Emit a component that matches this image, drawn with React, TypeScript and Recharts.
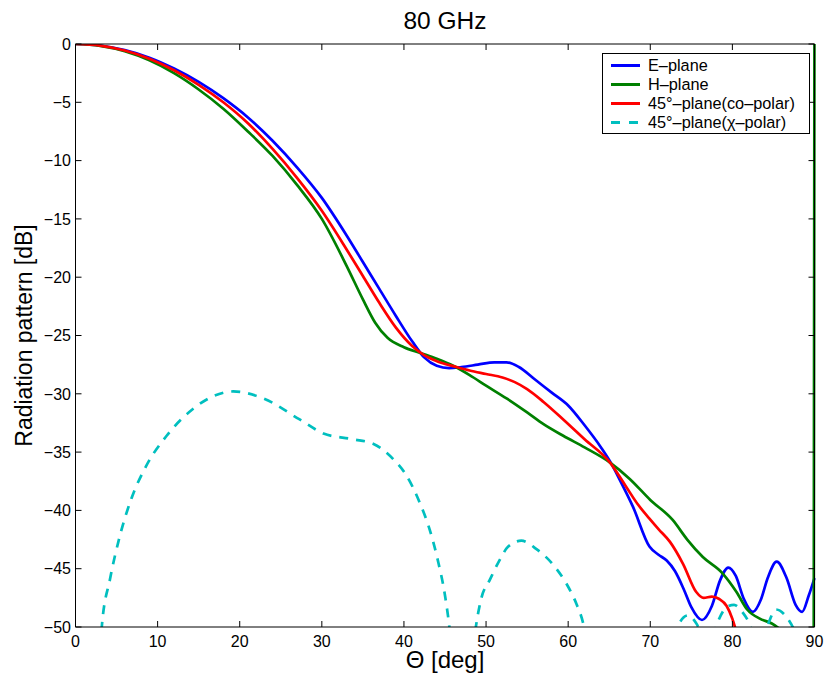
import React from "react";
import { LineChart, Line, XAxis, YAxis, Legend, Label } from "recharts";

// theta [deg] / level [dB] pairs
const thetaTicks = [0, 10, 20, 30, 40, 50, 60, 70, 80, 90];
const dbTicks = [-50, -45, -40, -35, -30, -25, -20, -15, -10, -5, 0];

const ePlane: [number, number][] = [
  [0, 0], [3, -0.13], [6, -0.52], [9, -1.17], [12, -2.1], [15, -3.25], [18, -4.65],
  [21, -6.3], [24, -8.3], [27, -10.6], [30, -13.2], [33, -16.4], [35, -18.7],
  [37, -21.0], [39, -23.3], [41, -25.5], [42.5, -26.9], [44, -27.6], [45.5, -27.8],
  [47, -27.7], [49, -27.5], [51, -27.3], [52.5, -27.3], [54, -27.7], [56, -28.8],
  [58, -29.9], [60, -31.0], [62, -32.7], [64, -34.6], [65.1, -35.8], [66.3, -37.4],
  [67.9, -39.7], [69.9, -43.1], [71, -43.8], [72, -44.3], [73, -45.2], [74.1, -46.8],
  [75, -48.3], [76.3, -49.4], [77.5, -48.2], [78.5, -46], [79.5, -44.9], [80.4, -45.6],
  [81.4, -47.6], [82.5, -48.7], [83.5, -47.6], [84.3, -45.8], [85.4, -44.4],
  [86.6, -45.8], [87.7, -48.1], [88.5, -48.7], [89.3, -47.3], [90, -45.8],
];

const hPlane: [number, number][] = [
  [0, 0], [3, -0.16], [6, -0.62], [9, -1.4], [12, -2.5], [15, -3.9], [18, -5.55],
  [21, -7.5], [24, -9.6], [27, -12.1], [30, -15.0], [33, -19.0], [35, -21.9],
  [36.5, -23.9], [38, -25.2], [40, -26.0], [42, -26.5], [44, -27.0], [46, -27.6],
  [48, -28.4], [50, -29.3], [52.5, -30.4], [55, -31.6], [57, -32.6], [59.4, -33.6],
  [62, -34.6], [65.1, -35.9], [67.5, -37.3], [70, -39.1], [72.7, -40.8], [74.5, -42.5],
  [76.4, -44.0], [78.8, -45.4], [80.5, -47.0], [81.8, -48.5], [83.4, -49.3],
  [84.8, -49.7], [86.5, -50.6], [88.5, -52], [89.9, -55], [90, 5],
];

const coPolar: [number, number][] = [
  [0, 0], [3, -0.14], [6, -0.56], [9, -1.26], [12, -2.25], [15, -3.5], [18, -5.0],
  [21, -6.8], [24, -9.0], [27, -11.5], [30, -14.3], [33, -17.6], [35, -19.9],
  [37, -22.2], [39, -24.3], [41, -25.9], [42.5, -26.7], [44, -27.2], [46.4, -27.7],
  [48, -28.0], [50, -28.3], [52, -28.6], [53.5, -29.0], [55, -29.6], [57, -30.7],
  [59.4, -32.2], [62, -33.9], [65.1, -35.9], [67, -37.9], [68.5, -39.5], [69.9, -40.7],
  [71, -41.6], [72.4, -42.7], [74, -44.6], [75.6, -47.0], [76.5, -47.5], [77.5, -47.4],
  [78.4, -47.6], [79.3, -48.2], [80, -49.3], [80.5, -50.5], [81.5, -54], [82, -56],
];

const crossPolar: [number, number][] = [
  [2, -62], [2.8, -54], [3.2, -50], [4.2, -45.9], [5.4, -42.2], [6.8, -39], [8.6, -36.2],
  [11.1, -33.6], [14.3, -31.3], [16.8, -30.2], [19.2, -29.8], [22.9, -30.4],
  [27.3, -32.2], [30.2, -33.4], [33.8, -33.9], [36.3, -34.3], [38.7, -35.6],
  [40.3, -37], [41.9, -39.3], [43.2, -41.8], [44.1, -44.2], [45, -47.3], [45.5, -49.8],
  [46.2, -55], [47, -58], [47.8, -56], [48.3, -52.5], [48.8, -49.8], [49.4, -47.6],
  [50.5, -45.9], [51.7, -44.2], [52.7, -43.1], [54.3, -42.6], [56.1, -43.3],
  [58.1, -44.6], [59.8, -46.3], [61, -48.0], [61.8, -49.6], [62.5, -52], [64, -57],
  [67, -62], [70, -60], [72, -55], [73.3, -50], [74.6, -49.0], [75.7, -49.8],
  [76.5, -51], [77.5, -51], [78.2, -49.6], [79.3, -48.3], [80.2, -48.1], [81.2, -48.7],
  [82, -49.6], [82.8, -51], [83.6, -50.8], [84.3, -49.8], [85.3, -48.5], [86.3, -48.9],
  [87.2, -49.8], [88, -51], [90, -54],
];

const toPoints = (rows: [number, number][]) => rows.map(([theta, db]) => ({ theta, db }));

const series = [
  { name: "E–plane", color: "#0000ff", dash: undefined, rows: ePlane },
  { name: "H–plane", color: "#008000", dash: undefined, rows: hPlane },
  { name: "45°–plane(co–polar)", color: "#ff0000", dash: undefined, rows: coPolar },
  { name: "45°–plane(χ–polar)", color: "#00bfbf", dash: "9 8", rows: crossPolar },
];

const font = '"Liberation Sans", Arial, Helvetica, sans-serif';
const minus = (v: number) => String(v).replace("-", "\u2212");

// chart frame
const W = 825;
const H = 679;
const margin = { top: 44, right: 10.5, left: 0, bottom: 0 };
const xAxisHeight = 52;
const yAxisWidth = 75.5;
const plotTop = margin.top;
const plotBottom = H - margin.bottom - xAxisHeight;
const plotLeft = margin.left + yAxisWidth;
const plotRight = W - margin.right;
const TICK = 6;

// MATLAB box style: inward tick stubs on both opposite sides plus the label
const BottomTick = (p: any) => (
  <g>
    <line x1={p.x} x2={p.x} y1={plotBottom} y2={plotBottom - TICK} stroke="#000" />
    <line x1={p.x} x2={p.x} y1={plotTop} y2={plotTop + TICK} stroke="#000" />
    <text x={p.x} y={plotBottom + 20} textAnchor="middle" fontSize={16} fontFamily={font} fill="#000">
      {p.payload.value}
    </text>
  </g>
);

const LeftTick = (p: any) => (
  <g>
    <line y1={p.y} y2={p.y} x1={plotLeft} x2={plotLeft + TICK} stroke="#000" />
    <line y1={p.y} y2={p.y} x1={plotRight} x2={plotRight - TICK} stroke="#000" />
    <text x={plotLeft - 4.5} y={p.y + 5.7} textAnchor="end" fontSize={16} fontFamily={font} fill="#000">
      {minus(p.payload.value)}
    </text>
  </g>
);

const PatternLegend = () => (
  <div
    style={{
      width: 208,
      height: 81,
      boxSizing: "border-box",
      border: "1px solid #000",
      background: "#fff",
      paddingTop: 2,
      fontFamily: font,
      fontSize: 16.3,
      color: "#000",
    }}
  >
    {series.map((s) => (
      <div key={s.name} style={{ display: "flex", alignItems: "center", height: 19 }}>
        <svg width={45} height={19} style={{ flex: "none" }}>
          <line x1={8} x2={37} y1={9.5} y2={9.5} stroke={s.color} strokeWidth={3} strokeDasharray={s.dash ? "9 9" : undefined} />
        </svg>
        <span style={{ whiteSpace: "nowrap" }}>{s.name}</span>
      </div>
    ))}
  </div>
);

export default function App() {
  return (
    <div style={{ position: "absolute", left: 0, top: 0, width: W, height: H, background: "#fff" }}>
      <LineChart width={W} height={H} margin={margin}>
        <XAxis
          type="number"
          dataKey="theta"
          domain={[0, 90]}
          ticks={thetaTicks}
          interval={0}
          height={xAxisHeight}
          stroke="#000"
          tickLine={false}
          tickSize={0}
          tick={BottomTick}
        >
          <Label
            content={() => (
              <text x={445} y={668} textAnchor="middle" fontSize={24} fontFamily={font} fill="#000">
                Θ [deg]
              </text>
            )}
          />
        </XAxis>
        <XAxis
          xAxisId="top"
          orientation="top"
          type="number"
          domain={[0, 90]}
          ticks={thetaTicks}
          mirror
          tick={false}
          tickLine={false}
          stroke="#000"
        >
          <Label
            content={() => (
              <text x={445} y={29} textAnchor="middle" fontSize={24.5} fontFamily={font} fill="#000">
                80 GHz
              </text>
            )}
          />
        </XAxis>
        <YAxis
          type="number"
          domain={[-50, 0]}
          ticks={dbTicks}
          interval={0}
          allowDataOverflow
          width={yAxisWidth}
          stroke="#000"
          tickLine={false}
          tickSize={0}
          tick={LeftTick}
        >
          <Label
            content={() => (
              <text
                x={31.5}
                y={335.5}
                transform="rotate(-90 31.5 335.5)"
                textAnchor="middle"
                fontSize={23}
                fontFamily={font}
                fill="#000"
              >
                Radiation pattern [dB]
              </text>
            )}
          />
        </YAxis>
        <YAxis
          yAxisId="right"
          orientation="right"
          type="number"
          domain={[-50, 0]}
          ticks={dbTicks}
          mirror
          tick={false}
          tickLine={false}
          stroke="#000"
        />
        {series.map((s) => (
          <Line
            key={s.name}
            data={toPoints(s.rows)}
            dataKey="db"
            name={s.name}
            type="monotone"
            stroke={s.color}
            strokeWidth={2.7}
            strokeDasharray={s.dash}
            dot={false}
            activeDot={false}
            isAnimationActive={false}
          />
        ))}
        <Legend
          layout="horizontal"
          verticalAlign="middle"
          align="center"
          width={208}
          wrapperStyle={{ left: 602, top: 53, width: 208, height: 81 }}
          content={() => <PatternLegend />}
        />
      </LineChart>
    </div>
  );
}
